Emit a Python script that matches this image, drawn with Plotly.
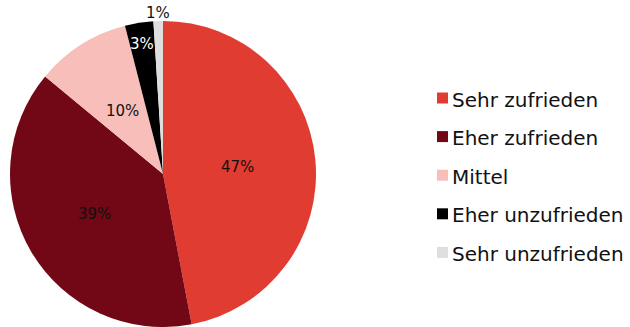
import math
import plotly.graph_objects as go

# Satisfaction survey shares (percent)
categories = ["Sehr zufrieden", "Eher zufrieden", "Mittel", "Eher unzufrieden", "Sehr unzufrieden"]
shares = [47, 39, 10, 3, 1]
colors = ["#E03C31", "#720815", "#F8BEBA", "#000000", "#DEDEDE"]
label_colors = ["#111111", "#111111", "#111111", "#FFFFFF", "#111111"]
# distance of each percentage label from the centre, as a fraction of the radius
label_radius = [0.49, 0.52, 0.49, 0.86, 1.05]

W, H = 630, 327
FONT = "DejaVu Sans"

# pie geometry in pixels (square domain)
px0, px1 = 10, 316
py_top, py_bot = 21, 327
cx, cy = (px0 + px1) / 2, (py_top + py_bot) / 2
R = (px1 - px0) / 2

fig = go.Figure(
    go.Pie(
        labels=categories,
        values=shares,
        sort=False,
        direction="clockwise",
        rotation=0,
        marker=dict(colors=colors, line=dict(width=0)),
        textinfo="none",
        domain=dict(x=[px0 / W, px1 / W], y=[1 - py_bot / H, 1 - py_top / H]),
        showlegend=False,
        hoverinfo="label+percent",
    )
)

# Percentage labels placed at each slice's mid angle (clockwise from 12 o'clock)
total = sum(shares)
start = 0.0
for v, col, frac in zip(shares, label_colors, label_radius):
    sweep = 360.0 * v / total
    mid = math.radians(start + sweep / 2)
    start += sweep
    x = cx + frac * R * math.sin(mid)
    y = cy - frac * R * math.cos(mid)
    fig.add_annotation(
        xref="paper", yref="paper", x=x / W, y=1 - y / H,
        xanchor="center", yanchor="middle", showarrow=False,
        text=f"{v}%", font=dict(family=FONT, size=15, color=col),
    )

# Legend: colour swatch plus category name, one row per category
legend_x0 = 437
legend_top = 98
row_gap = 38.6
swatch = 11
for i, (name, col) in enumerate(zip(categories, colors)):
    yc = legend_top + i * row_gap
    fig.add_shape(
        type="rect",
        xref="paper", yref="paper",
        x0=legend_x0 / W, x1=(legend_x0 + swatch) / W,
        y0=1 - (yc + swatch / 2) / H, y1=1 - (yc - swatch / 2) / H,
        fillcolor=col, line=dict(width=0),
    )
    fig.add_annotation(
        xref="paper", yref="paper",
        x=(legend_x0 + swatch + 2) / W, y=1 - (yc + 1.5) / H,
        xanchor="left", yanchor="middle",
        text=name, showarrow=False,
        font=dict(family=FONT, size=20, color="#111111"),
    )

fig.update_layout(
    width=W, height=H,
    margin=dict(l=0, r=0, t=0, b=0),
    paper_bgcolor="white",
    plot_bgcolor="white",
)

fig.write_html("out.html")
